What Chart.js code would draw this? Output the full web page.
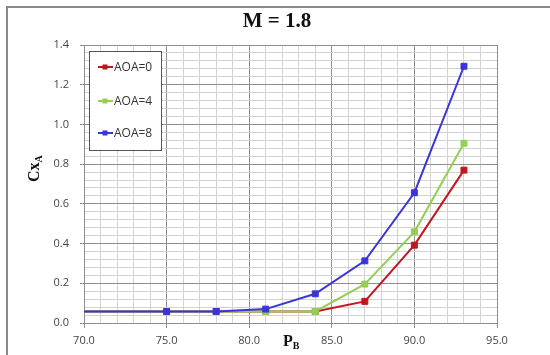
<!DOCTYPE html>
<html>
<head>
<meta charset="utf-8">
<title>M = 1.8</title>
<script src="https://cdn.jsdelivr.net/npm/chart.js@4/dist/chart.umd.min.js"></script>
<style>
  html, body { margin: 0; padding: 0; background: #fff; }
  #wrap { position: relative; width: 550px; height: 355px; }
</style>
</head>
<body>
<div id="wrap"><canvas id="cxChart"></canvas></div>
<script>
// P_B values (x axis)
const pbValues = [70, 75, 78, 81, 84, 87, 90, 93];

// Cx_A per angle of attack
const seriesNames = ["AOA=0", "AOA=4", "AOA=8"];
const aoa0 = [0.058, 0.058, 0.058, 0.058, 0.058, 0.109, 0.392, 0.770];
const aoa4 = [0.058, 0.058, 0.058, 0.058, 0.058, 0.196, 0.459, 0.905];
const aoa8 = [0.058, 0.058, 0.058, 0.070, 0.147, 0.313, 0.656, 1.293];

const xTickLabels = ["70.0", "75.0", "80.0", "85.0", "90.0", "95.0"];
const yTickLabels = ["0.0", "0.2", "0.4", "0.6", "0.8", "1.0", "1.2", "1.4"];

const seriesColors = ["#C3161C", "#93CF55", "#3A35D9"];

const majorGrid = "#8e8e8e";
const minorGrid = "#d3d3d3";
const tickFont = { family: "Open Sans", size: 11 };

function toPoints(vals) {
    return pbValues.map((x, i) => ({ x: x, y: vals[i] }));
}

function isMajor(value, step) {
    const r = value / step;
    return Math.abs(r - Math.round(r)) < 1e-6;
}

// first point sits on the axis, Excel shows no marker there
const radii = pbValues.map((x, i) => i === 0 ? 0 : 4.2);

const datasets = [aoa0, aoa4, aoa8].map((vals, i) => ({
    label: seriesNames[i],
    data: toPoints(vals),
    borderColor: seriesColors[i],
    backgroundColor: seriesColors[i],
    borderWidth: 2,
    pointStyle: "rect",
    pointRadius: radii,
    pointBorderWidth: 1,
    order: 3 - i
}));

// frame, titles and the boxed legend
const decorations = {
    id: "decorations",
    afterDraw(chart) {
        const ctx = chart.ctx;
        ctx.save();

        // chart frame (only left + top edges are in the crop)
        ctx.strokeStyle = "#8a8a8a";
        ctx.lineWidth = 2;
        ctx.beginPath();
        ctx.moveTo(7, 355);
        ctx.lineTo(7, 7);
        ctx.lineTo(550, 7);
        ctx.stroke();

        // title
        ctx.fillStyle = "#111";
        ctx.font = "bold 21px 'Liberation Serif'";
        ctx.textAlign = "center";
        ctx.textBaseline = "middle";
        ctx.fillText("M = 1.8", 277, 22);

        // x axis title P_B
        ctx.textAlign = "left";
        ctx.textBaseline = "alphabetic";
        ctx.font = "bold 16px 'Liberation Serif'";
        ctx.fillText("P", 283, 346);
        const pw = ctx.measureText("P").width;
        ctx.font = "bold 10px 'Liberation Serif'";
        ctx.fillText("B", 283 + pw, 349);

        // y axis title Cx_A
        ctx.save();
        ctx.translate(39, 182);
        ctx.rotate(-Math.PI / 2);
        ctx.font = "bold 16px 'Liberation Serif'";
        ctx.fillText("Cx", 0, 0);
        const w = ctx.measureText("Cx").width;
        ctx.font = "bold 10px 'Liberation Serif'";
        ctx.fillText("A", w, 3);
        ctx.restore();

        // legend box
        ctx.fillStyle = "#fff";
        ctx.fillRect(89.5, 51.5, 72, 99);
        ctx.strokeStyle = "#555";
        ctx.lineWidth = 1;
        ctx.strokeRect(89.5, 51.5, 72, 99);
        const rows = [67, 101, 133];
        ctx.font = "12px 'Open Sans'";
        ctx.textBaseline = "middle";
        chart.data.datasets.forEach((ds, i) => {
            const y = rows[i];
            ctx.strokeStyle = ds.borderColor;
            ctx.lineWidth = 2;
            ctx.beginPath();
            ctx.moveTo(98, y);
            ctx.lineTo(113, y);
            ctx.stroke();
            ctx.fillStyle = ds.borderColor;
            ctx.fillRect(102.5, y - 2.5, 5, 5);
            ctx.fillStyle = "#333";
            ctx.fillText(ds.label, 114, y + 0.5);
        });

        ctx.restore();
    }
};

new Chart(document.getElementById("cxChart"), {
    type: "line",
    data: { datasets: datasets },
    options: {
        responsive: true,
        maintainAspectRatio: false,
        animation: false,
        layout: { padding: { left: 7, right: 53, top: 45, bottom: 0 } },
        plugins: {
            legend: { display: false },
            tooltip: { enabled: false },
            title: { display: false }
        },
        scales: {
            x: {
                type: "linear",
                min: 70,
                max: 95,
                afterFit: (scale) => { scale.height = 32; },
                border: { color: majorGrid },
                grid: {
                    color: (c) => isMajor(c.tick.value, 5) ? majorGrid : minorGrid,
                    tickColor: (c) => isMajor(c.tick.value, 5) ? majorGrid : "rgba(0,0,0,0)",
                    tickLength: 5
                },
                ticks: {
                    stepSize: 1,
                    autoSkip: false,
                    maxRotation: 0,
                    padding: 6,
                    color: "#444",
                    font: tickFont,
                    callback: (v) => {
                        const s = Number(v).toFixed(1);
                        return xTickLabels.includes(s) ? s : "";
                    }
                }
            },
            y: {
                min: 0,
                max: 1.4,
                afterFit: (scale) => { scale.width = 77; },
                border: { color: majorGrid },
                grid: {
                    color: (c) => isMajor(c.tick.value, 0.2) ? majorGrid : minorGrid,
                    tickColor: (c) => isMajor(c.tick.value, 0.2) ? majorGrid : "rgba(0,0,0,0)",
                    tickLength: 4
                },
                ticks: {
                    stepSize: 0.04,
                    autoSkip: false,
                    padding: 11,
                    color: "#444",
                    font: tickFont,
                    callback: (v) => {
                        const s = Number(v).toFixed(1);
                        return isMajor(v, 0.2) && yTickLabels.includes(s) ? s : "";
                    }
                }
            }
        }
    },
    plugins: [decorations]
});
</script>
</body>
</html>
